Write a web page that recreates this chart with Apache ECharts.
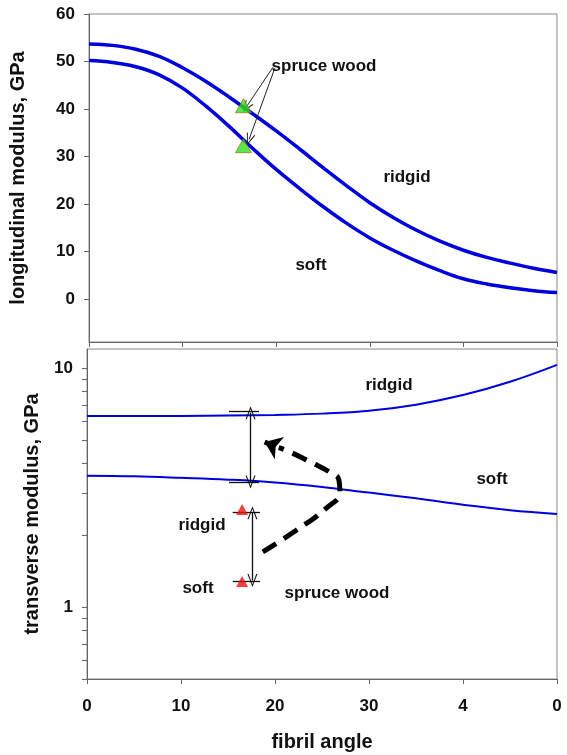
<!DOCTYPE html>
<html>
<head>
<meta charset="utf-8">
<script src="https://cdn.jsdelivr.net/npm/echarts@6/dist/echarts.min.js"></script>
<style>
  html, body { margin: 0; padding: 0; background: #fff; }
  #chart { width: 567px; height: 755px; }
</style>
</head>
<body>
<div id="chart"></div>
<script>
// fibril angle, degrees
var angles = [0, 2.5, 5, 7.5, 10, 12.5, 15, 17.5, 20, 22.5, 25, 27.5, 30, 32.5, 35, 37.5, 40, 42.5, 45, 47.5, 50];
// longitudinal modulus, GPa
var longRidgid = [53.7, 53.4, 52.6, 51.1, 48.7, 45.8, 42.5, 39.0, 35.4, 31.6, 27.7, 23.9, 20.3, 17.2, 14.5, 12.2, 10.3, 8.8, 7.6, 6.5, 5.6];
var longSoft = [50.2, 49.8, 48.9, 47.2, 44.4, 40.6, 36.3, 31.7, 27.3, 23.3, 19.5, 16.0, 12.9, 10.3, 8.0, 6.0, 4.3, 3.2, 2.4, 1.8, 1.4];

// transverse modulus, GPa
var anglesT = [0, 5, 10, 15, 20, 25, 30, 35, 40, 45, 50];
var transRidgid = [6.30, 6.30, 6.30, 6.32, 6.36, 6.44, 6.62, 7.02, 7.70, 8.75, 10.3];
var transSoft = [3.54, 3.52, 3.47, 3.41, 3.32, 3.18, 3.01, 2.85, 2.68, 2.54, 2.45];

// spruce wood measurements
var spruceAngle = 16.5;
var spruceLong = [40.7, 32.3];
var spruceTrans = [2.56, 1.28];

// tick labels
var longTicks = [0, 10, 20, 30, 40, 50, 60];
var transTicks = [1, 10];
var transMinorTicks = [0.5, 0.6, 0.7, 0.8, 0.9, 1, 2, 3, 4, 5, 6, 7, 8, 9, 10];
var xTickLabels = ['0', '10', '20', '30', '4', '0'];

// dashed curved arrow (angle, GPa)
var dashAngle = [18.7, 22.3, 25.5, 26.9, 26.8, 25.8, 24.0, 21.6, 20.4];
var dashValue = [1.70, 2.10, 2.60, 3.03, 3.40, 3.67, 4.00, 4.45, 4.64];

function pairs(xs, ys) {
    return xs.map(function (x, i) { return [x, ys[i]]; });
}

var chartDom = document.getElementById('chart');
var myChart = echarts.init(chartDom, null, { renderer: 'canvas' });
var option;

var FONT = 'Liberation Sans, Arial, sans-serif';
var chevron = 'path://M0,12 L6,0 L12,12 L10.6,12 L6,2.6 L1.4,12 Z';
var axisGrey = '#666';

function labelText(txt, x, y) {
    return {
        type: 'text',
        x: x,
        y: y,
        style: {
            text: txt,
            fill: '#111',
            font: 'bold 17px ' + FONT,
            textAlign: 'center',
            textVerticalAlign: 'middle'
        }
    };
}

option = {
    animation: false,
    backgroundColor: '#fff',
    grid: [
        { left: 87, right: 10, top: 14, height: 328, show: true, borderColor: '#888', borderWidth: 1 },
        { left: 87, right: 10, top: 349, height: 330, show: true, borderColor: '#888', borderWidth: 1 }
    ],
    xAxis: [
        {
            gridIndex: 0,
            type: 'value',
            min: 0,
            max: 50,
            interval: 10,
            axisLine: { onZero: false, lineStyle: { color: axisGrey } },
            axisTick: { inside: false, length: 5, lineStyle: { color: axisGrey } },
            axisLabel: { show: false },
            splitLine: { show: false }
        },
        {
            gridIndex: 1,
            type: 'value',
            min: 0,
            max: 50,
            interval: 10,
            name: 'fibril angle',
            nameLocation: 'middle',
            nameGap: 53,
            nameTextStyle: { fontFamily: FONT, fontWeight: 'bold', fontSize: 20, color: '#111', verticalAlign: 'top' },
            axisLine: { onZero: false, lineStyle: { color: axisGrey } },
            axisTick: { inside: false, length: 5, lineStyle: { color: axisGrey } },
            axisLabel: {
                margin: 19,
                fontFamily: FONT,
                fontWeight: 'bold',
                fontSize: 17,
                color: '#111',
                formatter: function (v) { return xTickLabels[Math.round(v / 10)]; }
            },
            splitLine: { show: false }
        }
    ],
    yAxis: [
        {
            gridIndex: 0,
            type: 'value',
            min: -9,
            max: 60,
            name: 'longitudinal modulus, GPa',
            nameLocation: 'middle',
            nameGap: 61,
            nameTextStyle: { fontFamily: FONT, fontWeight: 'bold', fontSize: 20, color: '#111' },
            axisLine: { show: true, onZero: false, lineStyle: { color: axisGrey } },
            axisTick: { show: true, length: 5, customValues: longTicks, lineStyle: { color: axisGrey } },
            axisLabel: {
                customValues: longTicks,
                margin: 14,
                fontFamily: FONT,
                fontWeight: 'bold',
                fontSize: 17,
                color: '#111'
            },
            splitLine: { show: false }
        },
        {
            gridIndex: 1,
            type: 'log',
            logBase: 10,
            min: 0.5,
            max: 12,
            name: 'transverse modulus, GPa',
            nameLocation: 'middle',
            nameGap: 45,
            nameTextStyle: { fontFamily: FONT, fontWeight: 'bold', fontSize: 20, color: '#111' },
            axisLine: { show: true, onZero: false, lineStyle: { color: axisGrey } },
            axisTick: { show: true, length: 5, customValues: transMinorTicks, lineStyle: { color: axisGrey } },
            axisLabel: {
                customValues: transTicks,
                margin: 14,
                fontFamily: FONT,
                fontWeight: 'bold',
                fontSize: 17,
                color: '#111'
            },
            splitLine: { show: false }
        }
    ],
    graphic: [
        labelText('spruce wood', 324, 66),
        labelText('ridgid', 407, 177),
        labelText('soft', 311, 265),
        labelText('ridgid', 389, 385),
        labelText('soft', 492, 479),
        labelText('ridgid', 202, 525),
        labelText('soft', 198, 588),
        labelText('spruce wood', 337, 593)
    ],
    series: [
        {
            name: 'ridgid',
            type: 'line',
            xAxisIndex: 0,
            yAxisIndex: 0,
            data: pairs(angles, longRidgid),
            smooth: 0.4,
            showSymbol: false,
            lineStyle: { color: '#0000dd', width: 3.5 }
        },
        {
            name: 'soft',
            type: 'line',
            xAxisIndex: 0,
            yAxisIndex: 0,
            data: pairs(angles, longSoft),
            smooth: 0.4,
            showSymbol: false,
            lineStyle: { color: '#0000dd', width: 3.5 },
            markLine: {
                silent: true,
                symbol: ['none', chevron],
                symbolSize: [9, 12],
                label: { show: false },
                lineStyle: { color: '#222', width: 1, type: 'solid' },
                data: [
                    [{ coord: [19.65, 48.8] }, { coord: [16.8, 40.4] }],
                    [{ coord: [19.85, 48.6] }, { coord: [17.1, 33.6] }]
                ]
            }
        },
        {
            name: 'spruce wood',
            type: 'scatter',
            xAxisIndex: 0,
            yAxisIndex: 0,
            data: spruceLong.map(function (v) { return [spruceAngle, v]; }),
            symbol: 'triangle',
            symbolSize: [16, 14],
            itemStyle: { color: '#2ee01e', borderColor: '#a05a10', borderWidth: 0.8 },
            z: 5
        },
        {
            name: 'ridgid T',
            type: 'line',
            xAxisIndex: 1,
            yAxisIndex: 1,
            data: pairs(anglesT, transRidgid),
            smooth: 0.4,
            showSymbol: false,
            lineStyle: { color: '#0000dd', width: 2 }
        },
        {
            name: 'soft T',
            type: 'line',
            xAxisIndex: 1,
            yAxisIndex: 1,
            data: pairs(anglesT, transSoft),
            smooth: 0.4,
            showSymbol: false,
            lineStyle: { color: '#0000dd', width: 2 },
            markLine: {
                silent: true,
                label: { show: false },
                lineStyle: { color: '#111', width: 1.3, type: 'solid' },
                symbolSize: [10, 13],
                data: [
                    // double-headed arrows
                    [{ coord: [17.4, 6.5], symbol: chevron }, { coord: [17.4, 3.33], symbol: chevron }],
                    [{ coord: [17.6, 2.48], symbol: chevron }, { coord: [17.6, 1.29], symbol: chevron }],
                    // caps
                    [{ coord: [15.1, 6.56], symbol: 'none' }, { coord: [18.3, 6.56], symbol: 'none' }],
                    [{ coord: [15.1, 3.31], symbol: 'none' }, { coord: [18.3, 3.31], symbol: 'none' }],
                    [{ coord: [15.5, 2.50], symbol: 'none' }, { coord: [18.4, 2.50], symbol: 'none' }],
                    [{ coord: [15.5, 1.276], symbol: 'none' }, { coord: [18.4, 1.276], symbol: 'none' }]
                ]
            }
        },
        {
            name: 'spruce wood T',
            type: 'scatter',
            xAxisIndex: 1,
            yAxisIndex: 1,
            data: spruceTrans.map(function (v) { return [spruceAngle, v]; }),
            symbol: 'triangle',
            symbolSize: [12, 11],
            itemStyle: { color: '#ee1111' },
            z: 5
        },
        {
            name: 'dashed arrow',
            type: 'line',
            xAxisIndex: 1,
            yAxisIndex: 1,
            data: pairs(dashAngle, dashValue),
            smooth: true,
            showSymbol: false,
            lineStyle: { color: '#000', width: 5, type: [16, 9] },
            markLine: {
                silent: true,
                label: { show: false },
                symbol: ['none', 'arrow'],
                symbolSize: [18, 16],
                lineStyle: { color: '#000', width: 5, type: 'solid' },
                data: [
                    [{ coord: [20.0, 4.70] }, { coord: [18.9, 4.90] }]
                ]
            }
        }
    ]
};

option && myChart.setOption(option);

window.addEventListener('resize', myChart.resize);
</script>
</body>
</html>
